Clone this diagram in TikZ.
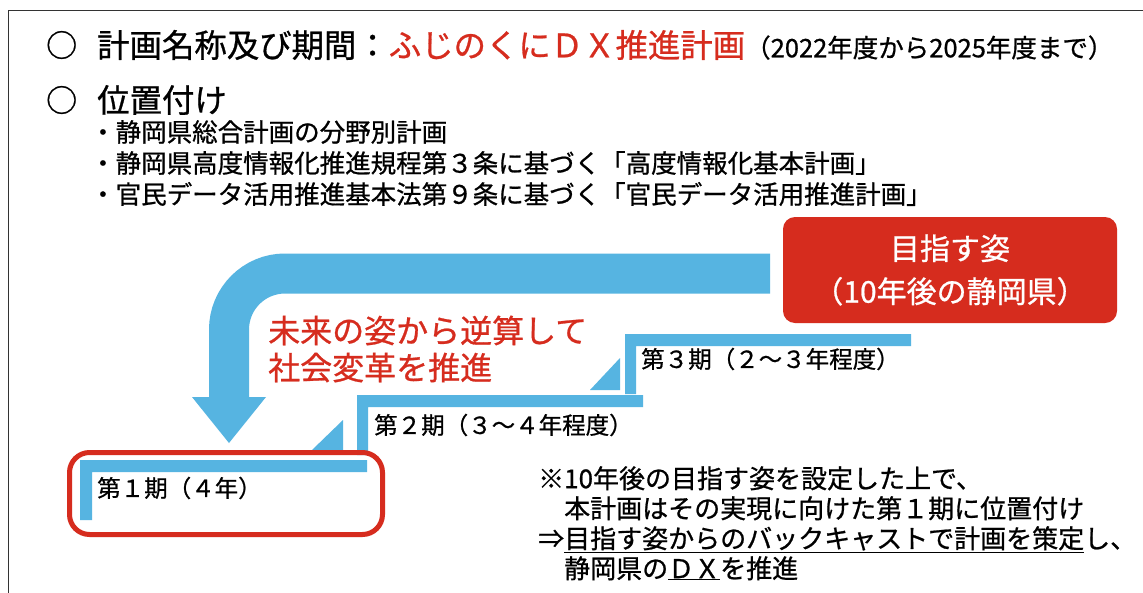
\documentclass[tikz,border=0pt]{standalone}
\usepackage{fontspec}
\setmainfont{Noto Sans CJK JP}[FakeBold=0.8]
\usepackage{tikz}
\usetikzlibrary{positioning}

\definecolor{skyblue}{RGB}{86,180,225}
\definecolor{dxred}{RGB}{214,44,30}

\tikzset{
	bulletmark/.style={anchor=west, inner sep=0pt, font=\fontsize{31}{37}\selectfont},
	headtext/.style={anchor=west, inner sep=0pt, font=\fontsize{32.4}{38}\selectfont},
	itemtext/.style={anchor=west, inner sep=0pt, font=\fontsize{25.5}{30}\selectfont},
	goalbox/.style={fill=dxred, text=white, rounded corners=12pt, minimum width=334pt, minimum height=106pt, align=center, inner sep=0pt, font=\fontsize{30}{43}\selectfont},
	steplabel/.style={anchor=west, inner sep=0pt, font=\fontsize{23.5}{27}\selectfont},
	redtext/.style={anchor=west, inner sep=0pt, align=left, text=dxred, font=\fontsize{32}{37}\selectfont},
	notetext/.style={anchor=north west, inner sep=0pt, align=left, font=\fontsize{26}{30}\selectfont}
}

\begin{document}
\begin{tikzpicture}[x=1pt,y=-1pt]
	\useasboundingbox (0,0) rectangle (1143,592);
	\fill[white] (0,0) rectangle (1143,592);
	\draw[line width=1.6pt, black!80] (8.5,600) -- (8.5,10.5) -- (1150,10.5);

	\node[bulletmark] (mark1) at (46,45) {○};
	\node[headtext] (title) at (97,45) {計画名称及び期間：\textcolor{dxred}{ふじのくにＤＸ推進計画}{\fontsize{25.5}{30}\selectfont（2022年度から2025年度まで）}};
	\node[bulletmark] (mark2) at (46,100) {○};
	\node[headtext] (place) at (97,100) {位置付け};
	\node[itemtext] (item1) at (90,132) {・静岡県総合計画の分野別計画};
	\node[itemtext] (item2) at (90,163) {・静岡県高度情報化推進規程第３条に基づく「高度情報化基本計画」};
	\node[itemtext] (item3) at (90,194) {・官民データ活用推進基本法第９条に基づく「官民データ活用推進計画」};

	\node[goalbox] (goal) at (950,270) {目指す姿\\（10年後の静岡県）};

	\coordinate (bandstart) at (770,273.5);
	\coordinate (bandturn) at (229,273.5);
	\coordinate (headbase) at (229,397);
	\coordinate (headtip) at (229,443);
	\draw[skyblue, line width=40pt, rounded corners=56pt] (bandstart) -- (bandturn) -- ([yshift=-1pt]headbase);
	\fill[skyblue] ([xshift=-37pt]headbase) -- ([xshift=37pt]headbase) -- (headtip) -- cycle;

	\fill[skyblue] (80,460) rectangle (367,472) (80,460) rectangle (92,520);
	\fill[skyblue] (357,395) rectangle (643,407) (357,395) rectangle (368,455);
	\fill[skyblue] (312,450) -- (343,450) -- (343,420) -- cycle;
	\fill[skyblue] (625,334) rectangle (911,346) (625,334) rectangle (636,394);
	\fill[skyblue] (590,390) -- (620,390) -- (620,358) -- cycle;
	\draw[dxred, line width=5pt, rounded corners=20pt] (69.5,452.5) rectangle (382.5,534.5);

	\node[steplabel] (phase1) at (97,488) {第１期（４年）};
	\node[steplabel] (phase2) at (374,425) {第２期（３～４年程度）};
	\node[steplabel] (phase3) at (641,359) {第３期（２～３年程度）};

	\node[redtext] (backcast) at (268,349) {未来の姿から逆算して\\社会変革を推進};

	\node[notetext] (note) at (538,466) {※10年後の目指す姿を設定した上で、\\
		\hspace{1em}本計画はその実現に向けた第１期に位置付け\\
		⇒\underline{目指す姿からのバックキャストで計画を策定}し、\\
		\hspace{1em}静岡県の\underline{ＤＸ}を推進};
\end{tikzpicture}
\end{document}
